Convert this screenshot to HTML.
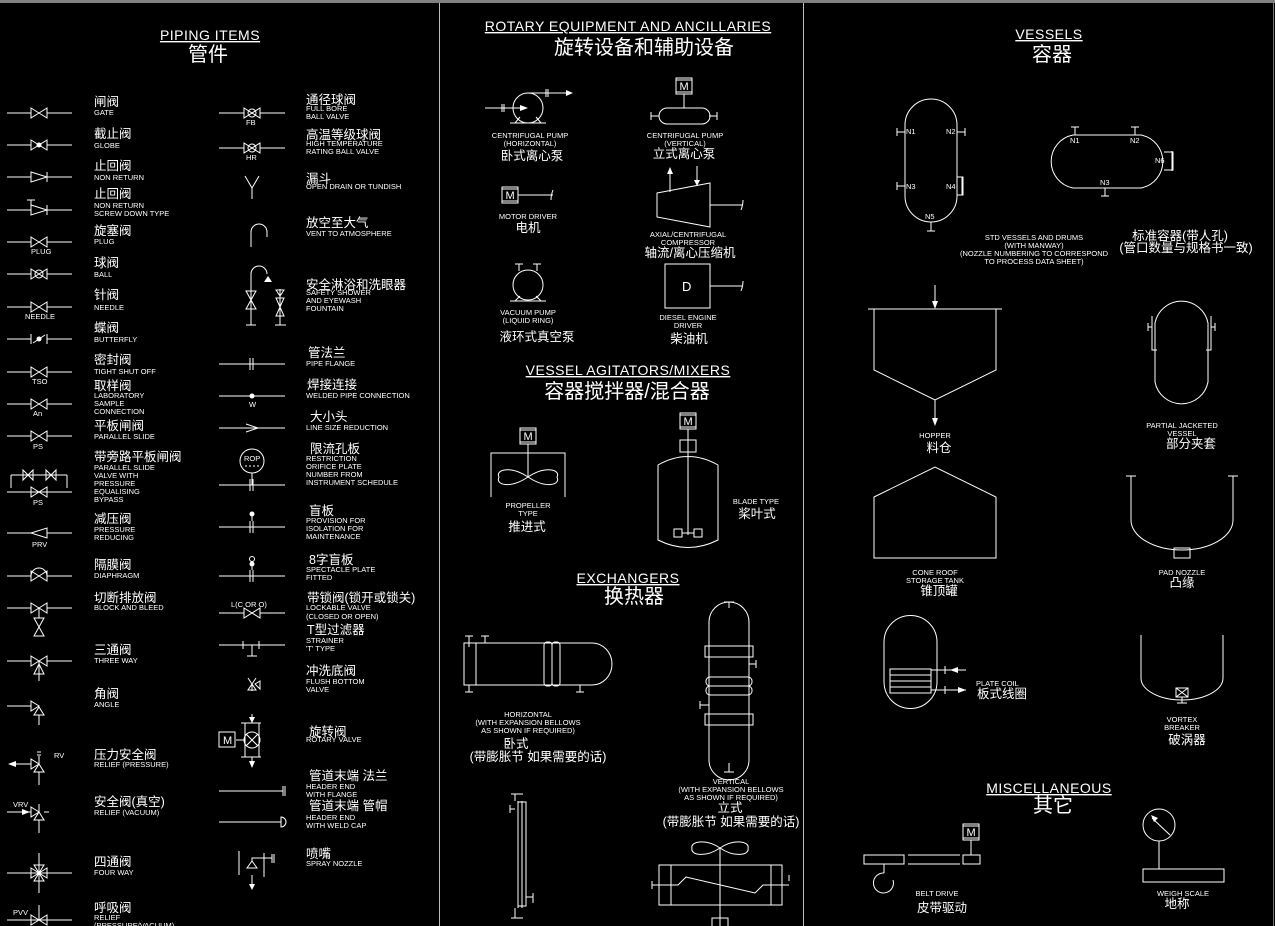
<!DOCTYPE html>
<html><head><meta charset="utf-8"><style>
html,body{margin:0;padding:0;background:#000;}
svg{display:block}
text{fill:#fff;font-family:"Liberation Sans","Noto Sans CJK SC",sans-serif}
.e{font-size:7.5px}
.c{font-size:12.5px}
.t{font-size:14px;text-decoration:underline;letter-spacing:0.5px}
.tc{font-size:20px}
.s{stroke:#fff;fill:none;stroke-width:1}
.f{fill:#fff;stroke:none}
</style></head><body>
<svg width="1275" height="926" viewBox="0 0 1275 926" xmlns="http://www.w3.org/2000/svg">
<defs>
<g id="bt"><path class="s" d="M-8,-5 L8,5 L8,-5 L-8,5 Z M-32,0 H-8 M8,0 H33"/></g>
<g id="bt2"><path class="s" d="M-8,-5 L8,5 L8,-5 L-8,5 Z M-33,0 H-8 M8,0 H33"/></g>
<g id="mot"><rect class="s" x="-8" y="-8" width="16" height="16"/><line class="s" x1="-8" y1="-6" x2="8" y2="-6"/><line class="s" x1="-8" y1="6" x2="8" y2="6"/><text x="-4.5" y="4" style="font-size:11px">M</text></g>
</defs>
<rect width="1275" height="926" fill="#000"/>
<rect x="0" y="0" width="1275" height="3" fill="#808080"/>
<line x1="439.5" y1="3" x2="439.5" y2="926" stroke="#bbb"/>
<line x1="803.5" y1="3" x2="803.5" y2="926" stroke="#bbb"/>
<line x1="1273.5" y1="3" x2="1273.5" y2="926" stroke="#777"/>

<text x="210" y="40" class="t" text-anchor="middle">PIPING ITEMS</text>
<text x="208" y="61" class="tc" text-anchor="middle">管件</text>

<use href="#bt" x="39" y="113"/>
<text x="94" y="106" class="c">闸阀</text><text x="94" y="115" class="e">GATE</text>
<use href="#bt" x="39" y="145"/><circle class="f" cx="39" cy="145" r="2.5"/>
<text x="94" y="138" class="c">截止阀</text><text x="94" y="148" class="e">GLOBE</text>
<path class="s" d="M7,177 H31 M31,172 L47,177 L31,182 Z M47,172 V182 M47,177 H72"/>
<text x="94" y="170" class="c">止回阀</text><text x="94" y="180" class="e">NON RETURN</text>
<path class="s" d="M7,210 H31 M31,205 L47,210 L31,215 Z M47,205 V215 M47,210 H72 M31,200 V205 M27,200 H35"/>
<text x="94" y="198" class="c">止回阀</text><text x="94" y="208" class="e">NON RETURN</text><text x="94" y="216" class="e">SCREW DOWN TYPE</text>
<use href="#bt" x="39" y="242"/><text x="31" y="254" class="e">PLUG</text>
<text x="94" y="235" class="c">旋塞阀</text><text x="94" y="244" class="e">PLUG</text>
<use href="#bt" x="39" y="274"/><circle class="s" cx="39" cy="274" r="4"/>
<text x="94" y="267" class="c">球阀</text><text x="94" y="277" class="e">BALL</text>
<use href="#bt" x="39" y="307"/><text x="25" y="319" class="e">NEEDLE</text>
<text x="94" y="299" class="c">针阀</text><text x="94" y="310" class="e">NEEDLE</text>
<path class="s" d="M7,339 H31 M31,334 V344 M47,334 V344 M47,339 H72 M33,343 L45,335"/><circle class="f" cx="39" cy="339" r="2.5"/>
<text x="94" y="332" class="c">蝶阀</text><text x="94" y="342" class="e">BUTTERFLY</text>
<use href="#bt" x="39" y="372"/><text x="32" y="384" class="e">TSO</text>
<text x="94" y="364" class="c">密封阀</text><text x="94" y="374" class="e">TIGHT SHUT OFF</text>
<use href="#bt" x="39" y="404"/><text x="33" y="416" class="e">An</text>
<text x="94" y="390" class="c">取样阀</text><text x="94" y="398" class="e">LABORATORY</text><text x="94" y="406" class="e">SAMPLE</text><text x="94" y="414" class="e">CONNECTION</text>
<use href="#bt" x="39" y="436"/><text x="33" y="449" class="e">PS</text>
<text x="94" y="430" class="c">平板闸阀</text><text x="94" y="439" class="e">PARALLEL SLIDE</text>
<path class="s" d="M11,475 H67 M11,475 V488 M67,475 V488 M23,470 L33,480 V470 L23,480 Z M46,470 L56,480 V470 L46,480 Z M7,492 H72 M31,487 L47,497 V487 L31,497 Z"/>
<text x="33" y="505" class="e">PS</text>
<text x="94" y="461" class="c">带旁路平板闸阀</text><text x="94" y="470" class="e">PARALLEL SLIDE</text><text x="94" y="478" class="e">VALVE WITH</text><text x="94" y="486" class="e">PRESSURE</text><text x="94" y="494" class="e">EQUALISING</text><text x="94" y="502" class="e">BYPASS</text>
<path class="s" d="M7,533 H31 M47,533 H72 M31,533 L47,528 V538 Z"/><text x="32" y="547" class="e">PRV</text>
<text x="94" y="523" class="c">减压阀</text><text x="94" y="532" class="e">PRESSURE</text><text x="94" y="540" class="e">REDUCING</text>
<use href="#bt" x="39" y="576"/><path class="s" d="M31,576 A8,8 0 0 1 47,576"/>
<text x="94" y="569" class="c">隔膜阀</text><text x="94" y="578" class="e">DIAPHRAGM</text>
<use href="#bt" x="39" y="608"/><path class="s" d="M39,608 V618 M34,618 L44,636 H34 L44,618 Z"/>
<text x="94" y="602" class="c">切断排放阀</text><text x="94" y="610" class="e">BLOCK AND BLEED</text>
<use href="#bt" x="39" y="661"/><path class="s" d="M39,661 V681 M34,674 L39,664 L44,674 Z"/>
<text x="94" y="654" class="c">三通阀</text><text x="94" y="663" class="e">THREE WAY</text>
<path class="s" d="M7,706 H31 M31,701 L39,706 L31,711 Z M34,715 L39,707 L44,715 Z M39,715 V725"/>
<text x="94" y="698" class="c">角阀</text><text x="94" y="707" class="e">ANGLE</text>
<path class="s" d="M12,764 H31 M31,759 L39,764 L31,769 Z M34,772 L39,764 L44,772 Z M39,772 V785 M39,756 V764 M37,752 H41 M37,755 H41"/>
<path class="f" d="M8,764 L16,761 V767 Z"/><text x="54" y="758" class="e">RV</text>
<text x="94" y="759" class="c">压力安全阀</text><text x="94" y="767" class="e">RELIEF (PRESSURE)</text>
<path class="s" d="M7,812 H31 M31,807 L39,812 L31,817 Z M34,820 L39,812 L44,820 Z M39,820 V833 M39,804 V812 M44,812 H49"/>
<path class="f" d="M30,812 L22,809 V815 Z"/><text x="13" y="807" class="e">VRV</text>
<text x="94" y="806" class="c">安全阀(真空)</text><text x="94" y="815" class="e">RELIEF (VACUUM)</text>
<path class="s" d="M7,873 H72 M31,868 L47,878 V868 L31,878 Z M39,853 V893 M34,865 L39,873 L44,865 Z M34,881 L39,873 L44,881 Z"/>
<text x="94" y="866" class="c">四通阀</text><text x="94" y="875" class="e">FOUR WAY</text>
<path class="s" d="M7,920 H72 M31,915 L47,925 V915 L31,925 Z M39,905 V920"/><text x="13" y="915" class="e">PVV</text>
<text x="94" y="912" class="c">呼吸阀</text><text x="94" y="920" class="e">RELIEF</text><text x="94" y="928" class="e">(PRESSURE/VACUUM)</text>

<use href="#bt2" x="252" y="113"/><circle class="s" cx="252" cy="113" r="4"/><text x="246" y="125" class="e">FB</text>
<text x="306" y="104" class="c">通径球阀</text><text x="306" y="111" class="e">FULL BORE</text><text x="306" y="119" class="e">BALL VALVE</text>
<use href="#bt2" x="252" y="148"/><circle class="s" cx="252" cy="148" r="4"/><text x="246" y="160" class="e">HR</text>
<text x="306" y="139" class="c">高温等级球阀</text><text x="306" y="146" class="e">HIGH TEMPERATURE</text><text x="306" y="154" class="e">RATING BALL VALVE</text>
<path class="s" d="M245,176 L252,188 L259,176 M252,188 V199"/>
<text x="306" y="183" class="c">漏斗</text><text x="306" y="189" class="e">OPEN DRAIN OR TUNDISH</text>
<path class="s" d="M251,247 V232 A8,8 0 0 1 267,232 V237"/>
<text x="306" y="227" class="c">放空至大气</text><text x="306" y="236" class="e">VENT TO ATMOSPHERE</text>
<path class="s" d="M251,325 V274 A8,8 0 0 1 267,274 M246,291 L256,309 H246 L256,291 Z M280,289 V325 M276,290 L284,290 L280,296 Z M276,298 L284,316 H276 L284,298 Z M246,325 H256 M275,325 H286"/>
<path class="f" d="M264,282 L268,276 L272,282 Z"/>
<text x="306" y="289" class="c">安全淋浴和洗眼器</text><text x="306" y="295" class="e">SAFETY SHOWER</text><text x="306" y="303" class="e">AND EYEWASH</text><text x="306" y="311" class="e">FOUNTAIN</text>
<path class="s" d="M219,364 H285 M250,358 V370 M253,358 V370"/>
<text x="308" y="357" class="c">管法兰</text><text x="306" y="366" class="e">PIPE FLANGE</text>
<path class="s" d="M219,396 H285"/><circle class="f" cx="252" cy="396" r="2.5"/><text x="249" y="407" class="e">W</text>
<text x="307" y="389" class="c">焊接连接</text><text x="306" y="398" class="e">WELDED PIPE CONNECTION</text>
<path class="s" d="M219,428 H285 M246,424 L258,428 L246,432"/>
<text x="310" y="421" class="c">大小头</text><text x="306" y="430" class="e">LINE SIZE REDUCTION</text>
<circle class="s" cx="252" cy="461" r="12"/><text x="244" y="461" class="e">ROP</text><path class="s" d="M245,466 H259" stroke-dasharray="2,2"/>
<path class="s" d="M252,473 V485 M219,485 H285 M250,479 V491 M253,479 V491"/>
<text x="310" y="453" class="c">限流孔板</text><text x="306" y="461" class="e">RESTRICTION</text><text x="306" y="469" class="e">ORIFICE PLATE</text><text x="306" y="477" class="e">NUMBER FROM</text><text x="306" y="485" class="e">INSTRUMENT SCHEDULE</text>
<path class="s" d="M219,527 H285 M250,521 V533 M253,521 V533 M252,515 V521"/><circle class="f" cx="252" cy="514" r="2.5"/>
<text x="309" y="515" class="c">盲板</text><text x="306" y="523" class="e">PROVISION FOR</text><text x="306" y="531" class="e">ISOLATION FOR</text><text x="306" y="539" class="e">MAINTENANCE</text>
<path class="s" d="M219,576 H285 M250,570 V582 M253,570 V582 M252,566 V570"/><circle class="s" cx="252" cy="559" r="2.5"/><circle class="f" cx="252" cy="564" r="2.5"/>
<text x="309" y="564" class="c">8字盲板</text><text x="306" y="572" class="e">SPECTACLE PLATE</text><text x="306" y="580" class="e">FITTED</text>
<use href="#bt2" x="252" y="613"/><text x="231" y="607" class="e">L(C OR O)</text>
<text x="307" y="602" class="c">带锁阀(锁开或锁关)</text><text x="306" y="610" class="e">LOCKABLE VALVE</text><text x="306" y="619" class="e">(CLOSED OR OPEN)</text>
<path class="s" d="M219,645 H285 M243,641 V649 M259,641 V649 M252,645 V656 M247,656 H257"/>
<text x="307" y="634" class="c">T型过滤器</text><text x="306" y="643" class="e">STRAINER</text><text x="306" y="651" class="e">'T' TYPE</text>
<path class="s" d="M248,678 L256,690 H248 L256,678 M252,685 V691 M255,684 L260,681 V689 Z"/>
<text x="306" y="675" class="c">冲洗底阀</text><text x="306" y="684" class="e">FLUSH BOTTOM</text><text x="306" y="692" class="e">VALVE</text>
<circle class="s" cx="252" cy="740" r="8"/><path class="s" d="M246,734 L258,746 M258,734 L246,746 M241,723 H261 M241,757 H261 M245,723 V757 M259,723 V757 M252,714 V723 M252,757 V765 M236,740 H244"/>
<rect class="s" x="219" y="732" width="16" height="15"/><text x="223" y="744" style="font-size:11px">M</text>
<path class="f" d="M249,717 L255,717 L252,723 Z M249,761 L255,761 L252,768 Z"/>
<text x="309" y="736" class="c">旋转阀</text><text x="306" y="742" class="e">ROTARY VALVE</text>
<path class="s" d="M219,791 H283 M283,786 V796 M285,786 V796"/>
<text x="309" y="780" class="c">管道末端 法兰</text><text x="306" y="789" class="e">HEADER END</text><text x="306" y="797" class="e">WITH FLANGE</text>
<path class="s" d="M219,822 H281 M281,817 A5,5 0 0 1 281,827 Z"/>
<text x="309" y="810" class="c">管道末端 管帽</text><text x="306" y="820" class="e">HEADER END</text><text x="306" y="828" class="e">WITH WELD CAP</text>
<path class="s" d="M239,851 V875 M264,853 V877 M247,868 L252,861 L257,868 Z M252,861 V858 H264 M264,858 H272 M272,854 V863 M274,854 V863 M252,875 V886"/>
<path class="f" d="M249,884 H255 L252,890 Z"/>
<text x="306" y="858" class="c">喷嘴</text><text x="306" y="866" class="e">SPRAY NOZZLE</text>

<text x="628" y="31" class="t" text-anchor="middle">ROTARY EQUIPMENT AND ANCILLARIES</text>
<text x="644" y="54" class="tc" text-anchor="middle">旋转设备和辅助设备</text>
<circle class="s" cx="528" cy="108" r="15"/>
<path class="s" d="M485,108 H520 M502,104 V112 M504,104 V112 M528,93 H560 M546,89 V97 M548,89 V97 M560,93 H567 M515,123 L520,117 M541,123 L536,117 M510,123 H546"/>
<path class="f" d="M520,105 L528,108 L520,111 Z M566,90 L573,93 L566,96 Z"/>
<text x="530" y="138" class="e" text-anchor="middle">CENTRIFUGAL PUMP</text><text x="530" y="146" class="e" text-anchor="middle">(HORIZONTAL)</text>
<text x="532" y="160" class="c" text-anchor="middle">卧式离心泵</text>
<use href="#mot" x="684" y="86"/><path class="s" d="M684,94 V108 M667,108 H702 A8,8 0 0 1 702,124 H667 A8,8 0 0 1 667,108 M651,112 V120 M651,116 H659 M717,112 V120 M709,116 H717"/>
<text x="685" y="138" class="e" text-anchor="middle">CENTRIFUGAL PUMP</text><text x="685" y="146" class="e" text-anchor="middle">(VERTICAL)</text>
<text x="684" y="158" class="c" text-anchor="middle">立式离心泵</text>
<use href="#mot" x="510" y="195"/><path class="s" d="M518,195 H553 M553,190 Q551,195 551,200"/>
<text x="528" y="219" class="e" text-anchor="middle">MOTOR DRIVER</text><text x="528" y="232" class="c" text-anchor="middle">电机</text>
<path class="s" d="M657,193 L710,183 V227 L657,217 Z M710,205 H743 M743,200 Q743,205 741,210 M670,192 V172 M697,166 V183"/>
<path class="f" d="M667,174 L670,167 L673,174 Z M694,180 L697,186 L700,180 Z"/>
<text x="688" y="237" class="e" text-anchor="middle">AXIAL/CENTRIFUGAL</text><text x="688" y="245" class="e" text-anchor="middle">COMPRESSOR</text>
<text x="690" y="257" class="c" text-anchor="middle">轴流/离心压缩机</text>
<circle class="s" cx="528" cy="285" r="15"/><path class="s" d="M519,271 V264 M537,271 V264 M515,264 H523 M533,264 H541 M515,301 L520,296 M541,301 L536,296 M510,301 H546"/>
<text x="528" y="315" class="e" text-anchor="middle">VACUUM PUMP</text><text x="528" y="323" class="e" text-anchor="middle">(LIQUID RING)</text>
<text x="537" y="341" class="c" text-anchor="middle">液环式真空泵</text>
<rect class="s" x="665" y="264" width="45" height="44"/><text x="682" y="291" style="font-size:13px">D</text><path class="s" d="M710,286 H743 M743,281 Q743,286 741,291"/>
<text x="688" y="320" class="e" text-anchor="middle">DIESEL ENGINE</text><text x="688" y="328" class="e" text-anchor="middle">DRIVER</text>
<text x="689" y="343" class="c" text-anchor="middle">柴油机</text>

<text x="628" y="375" class="t" text-anchor="middle">VESSEL AGITATORS/MIXERS</text>
<text x="627" y="398" class="tc" text-anchor="middle">容器搅拌器/混合器</text>
<use href="#mot" x="528" y="436"/><path class="s" d="M528,444 V477 M491,497 V453 H565 V497 M528,477 C510,465 495,470 499,477 C495,485 510,489 528,477 C546,465 561,470 557,477 C561,485 546,489 528,477"/>
<text x="528" y="508" class="e" text-anchor="middle">PROPELLER</text><text x="528" y="516" class="e" text-anchor="middle">TYPE</text>
<text x="527" y="531" class="c" text-anchor="middle">推进式</text>
<use href="#mot" x="688" y="421"/><path class="s" d="M680,440 H696 V452 H680 Z M688,429 V535 M658,465 Q688,448 718,465 V540 Q688,555 658,540 Z"/>
<rect class="s" x="674" y="529" width="8" height="8"/><rect class="s" x="694" y="529" width="8" height="8"/><path class="s" d="M682,533 H694"/>
<text x="756" y="504" class="e" text-anchor="middle">BLADE TYPE</text><text x="757" y="518" class="c" text-anchor="middle">桨叶式</text>

<text x="628" y="583" class="t" text-anchor="middle">EXCHANGERS</text>
<text x="634" y="603" class="tc" text-anchor="middle">换热器</text>
<path class="s" d="M464,643 H592 A20,21 0 0 1 592,685 H464 Z M476,643 V685 M469,636 V647 M465,636 H473 M485,636 V643 M481,636 H489 M469,685 V692 M465,692 H473 M580,685 V692 M576,692 H584"/>
<rect class="s" x="544" y="642" width="8" height="44" rx="3"/><rect class="s" x="552" y="642" width="8" height="44" rx="3"/>
<text x="528" y="717" class="e" text-anchor="middle">HORIZONTAL</text><text x="528" y="725" class="e" text-anchor="middle">(WITH EXPANSION BELLOWS</text><text x="528" y="733" class="e" text-anchor="middle">AS SHOWN IF REQUIRED)</text>
<text x="516" y="748" class="c" text-anchor="middle">卧式</text><text x="538" y="761" class="c" text-anchor="middle">(带膨胀节 如果需要的话)</text>
<path class="s" d="M709,622 A20,20 0 0 1 749,622 V760 A20,20 0 0 1 709,760 Z M729,602 V608 M724,602 H734 M729,763 V772 M724,772 H734 M749,664 H756 M756,660 V668 M700,705 H709 M700,701 V709"/>
<rect class="s" x="705" y="646" width="48" height="11"/><rect class="s" x="705" y="714" width="48" height="11"/>
<rect class="s" x="706" y="677" width="46" height="9" rx="4"/><rect class="s" x="706" y="686" width="46" height="9" rx="4"/>
<text x="731" y="784" class="e" text-anchor="middle">VERTICAL</text><text x="731" y="792" class="e" text-anchor="middle">(WITH EXPANSION BELLOWS</text><text x="731" y="800" class="e" text-anchor="middle">AS SHOWN IF REQUIRED)</text>
<text x="730" y="812" class="c" text-anchor="middle">立式</text><text x="731" y="826" class="c" text-anchor="middle">(带膨胀节 如果需要的话)</text>
<path class="s" d="M518,801 V908 M522,801 V908 M518,802 H526 V906 H518 M515,794 V801 M511,794 H523 M515,908 V918 M511,918 H523 M510,809 H515 M510,805 V813 M526,897 H533 M533,893 V903"/>
<path class="s" d="M659,865 H782 V905 H659 Z M671,865 V905 M771,865 V905 M652,885 H678 L686,877 L755,893 L763,885 H789 M652,881 V889 M789,875 V881 M720,848 V926 M720,848 C705,838 690,842 692,848 C690,855 705,858 720,848 C735,838 750,842 748,848 C750,855 735,858 720,848"/>
<rect class="s" x="712" y="918" width="16" height="10"/>

<text x="1049" y="39" class="t" text-anchor="middle">VESSELS</text>
<text x="1052" y="61" class="tc" text-anchor="middle">容器</text>
<path class="s" d="M905,125 A26,26 0 0 1 957,125 V196 A26,26 0 0 1 905,196 Z M897,132 H905 M897,128 V136 M957,132 H965 M965,128 V136 M897,186 H905 M897,182 V190 M957,177 H963 V195 H957 M962,177 V195 M931,222 V231 M927,231 H935"/>
<text x="906" y="134" class="e">N1</text><text x="946" y="134" class="e">N2</text><text x="906" y="189" class="e">N3</text><text x="946" y="189" class="e">N4</text><text x="925" y="219" class="e">N5</text>
<path class="s" d="M1073,135 H1141 A27,27 0 0 1 1141,188 H1073 A27,27 0 0 1 1073,135 Z M1075,135 V127 M1071,127 H1079 M1135,135 V127 M1131,127 H1139 M1105,188 V196 M1101,196 H1109 M1164,152 H1173 V170 H1164 M1172,151 V171"/>
<text x="1070" y="143" class="e">N1</text><text x="1130" y="143" class="e">N2</text><text x="1155" y="163" class="e">N6</text><text x="1100" y="185" class="e">N3</text>
<text x="1034" y="240" class="e" text-anchor="middle">STD VESSELS AND DRUMS</text><text x="1034" y="248" class="e" text-anchor="middle">(WITH MANWAY)</text><text x="1034" y="256" class="e" text-anchor="middle">(NOZZLE NUMBERING TO CORRESPOND</text><text x="1034" y="264" class="e" text-anchor="middle">TO PROCESS DATA SHEET)</text>
<text x="1180" y="240" class="c" text-anchor="middle">标准容器(带人孔)</text><text x="1186" y="252" class="c" text-anchor="middle">(管口数量与规格书一致)</text>
<path class="s" d="M868,309 H1002 M874,309 V370 L935,400 L996,370 V309 M935,285 V302 M935,400 V418"/>
<path class="f" d="M932,301 H938 L935,309 Z M932,418 H938 L935,426 Z"/>
<text x="935" y="438" class="e" text-anchor="middle">HOPPER</text><text x="939" y="452" class="c" text-anchor="middle">料仓</text>
<path class="s" d="M1155,323 A27,27 0 0 1 1208,323 V382 A27,27 0 0 1 1155,382 Z M1152,316 V350 H1157 M1152,327 H1148 M1148,323 V331 M1211,316 V350 H1206 M1211,327 H1215 M1215,323 V331"/>
<text x="1182" y="428" class="e" text-anchor="middle">PARTIAL JACKETED</text><text x="1182" y="436" class="e" text-anchor="middle">VESSEL</text>
<text x="1191" y="448" class="c" text-anchor="middle">部分夹套</text>
<path class="s" d="M874,497 L935,467 L996,497 V558 H874 Z"/>
<text x="935" y="575" class="e" text-anchor="middle">CONE ROOF</text><text x="935" y="583" class="e" text-anchor="middle">STORAGE TANK</text>
<text x="939" y="595" class="c" text-anchor="middle">锥顶罐</text>
<path class="s" d="M1131,476 V520 A51,30 0 0 0 1233,520 V476 M1126,476 H1136 M1228,476 H1238 M1174,548 H1190 V558 H1174 Z"/>
<text x="1182" y="575" class="e" text-anchor="middle">PAD NOZZLE</text><text x="1182" y="587" class="c" text-anchor="middle">凸缘</text>
<path class="s" d="M884,642 A26,26 0 0 1 937,642 V682 A26,26 0 0 1 884,682 Z M890,669 H931 V693 H890 Z M890,675 H931 M890,681 H931 M890,687 H931 M931,670 H966 M931,690 H966 M945,666 V674 M945,686 V694"/>
<path class="f" d="M950,670 L958,667 V673 Z M958,687 L966,690 L958,693 Z"/>
<text x="976" y="686" class="e">PLATE COIL</text><text x="977" y="698" class="c">板式线圈</text>
<path class="s" d="M1141,635 V678 A41,22 0 0 0 1223,678 V635 M1176,688 H1188 V697 H1176 Z M1176,688 L1188,697 M1188,688 L1176,697 M1182,697 V703 M1177,703 H1187"/>
<text x="1182" y="722" class="e" text-anchor="middle">VORTEX</text><text x="1182" y="730" class="e" text-anchor="middle">BREAKER</text>
<text x="1187" y="744" class="c" text-anchor="middle">破涡器</text>
<text x="1049" y="793" class="t" text-anchor="middle">MISCELLANEOUS</text>
<text x="1053" y="812" class="tc" text-anchor="middle">其它</text>
<use href="#mot" x="971" y="832"/><path class="s" d="M971,840 V855 M864,855 H904 V864 H864 Z M908,855 H960 M908,864 H960 M963,855 H980 V864 H963 Z M884,864 V873 M884,873 A10,10 0 1 0 893,880"/>
<text x="937" y="896" class="e" text-anchor="middle">BELT DRIVE</text><text x="942" y="912" class="c" text-anchor="middle">皮带驱动</text>
<circle class="s" cx="1159" cy="825" r="16"/><path class="s" d="M1159,841 V869 M1143,869 H1224 V882 H1143 Z M1170,835 L1152,818"/>
<path class="f" d="M1151,815 L1158,818 L1154,822 Z"/>
<text x="1183" y="896" class="e" text-anchor="middle">WEIGH SCALE</text><text x="1177" y="908" class="c" text-anchor="middle">地称</text>
</svg>
</body></html>
